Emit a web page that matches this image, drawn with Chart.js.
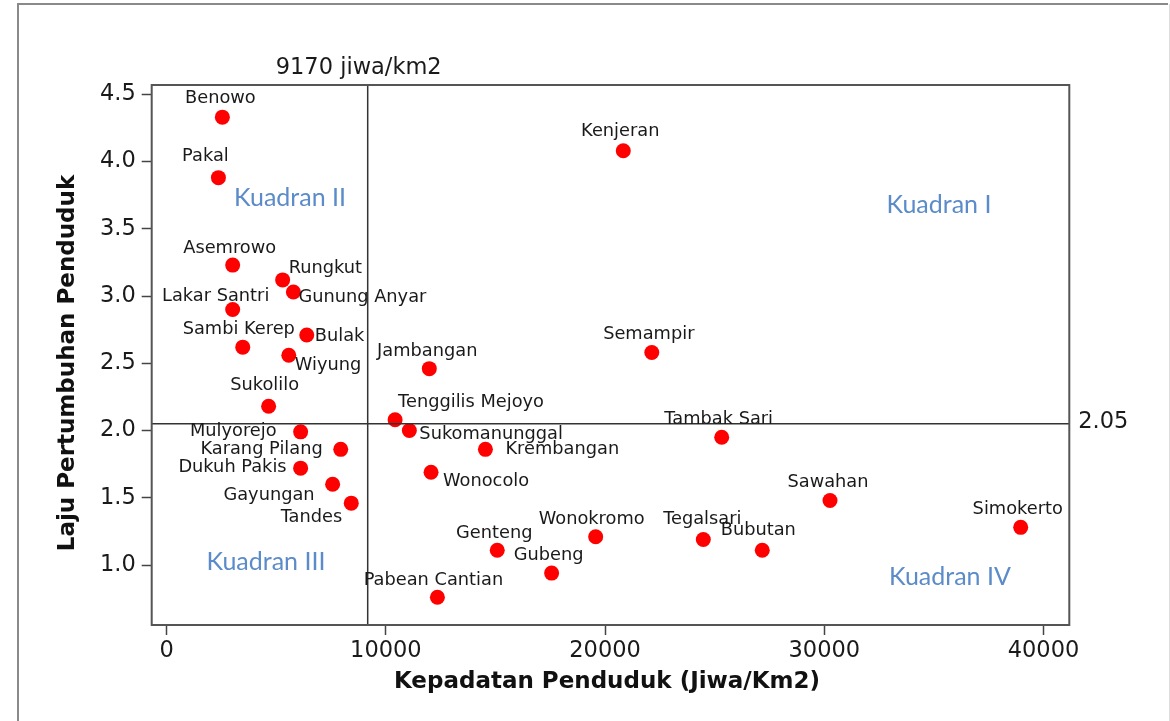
<!DOCTYPE html>
<html>
<head>
<meta charset="utf-8">
<script src="https://cdn.jsdelivr.net/npm/chart.js@4.4.1/dist/chart.umd.min.js"></script>
<style>
html,body{margin:0;padding:0;background:#fff;}
#wrap{position:relative;width:1170px;height:721px;}
canvas{display:block;}
</style>
</head>
<body>
<div id="wrap"><canvas id="c" width="1170" height="721"></canvas></div>
<script>
// ---- DATA ----
const districts = ["Benowo","Pakal","Asemrowo","Rungkut","Gunung Anyar","Lakar Santri","Bulak","Sambi Kerep","Wiyung","Sukolilo","Mulyorejo","Karang Pilang","Dukuh Pakis","Gayungan","Tandes","Jambangan","Semampir","Tenggilis Mejoyo","Sukomanunggal","Tambak Sari","Krembangan","Wonocolo","Genteng","Wonokromo","Tegalsari","Bubutan","Gubeng","Pabean Cantian","Sawahan","Simokerto","Kenjeran"];
const density = [2540,2360,3010,5290,5780,3010,6390,3470,5570,4650,6110,7940,6110,7570,8420,11980,22130,10420,11070,25320,14540,12060,15080,19570,24480,27170,17560,12350,30260,38960,20830];
const growth = [4.33,3.88,3.23,3.12,3.03,2.90,2.71,2.62,2.56,2.18,1.99,1.86,1.72,1.60,1.46,2.46,2.58,2.08,2.00,1.95,1.86,1.69,1.11,1.21,1.19,1.11,0.94,0.76,1.48,1.28,4.08];
const xTickValues = [0,10000,20000,30000,40000];
const yTickValues = [1.0,1.5,2.0,2.5,3.0,3.5,4.0,4.5];
const refDensity = 9170;
const refGrowth = 2.05;
const refDensityLabel = "9170 jiwa/km2";
const refGrowthLabel = "2.05";
const quadrantNames = ["Kuadran I","Kuadran II","Kuadran III","Kuadran IV"];
const xTitle = "Kepadatan Penduduk (Jiwa/Km2)";
const yTitle = "Laju Pertumbuhan Penduduk";

// ---- LAYOUT / STYLE ----
const quadrantPos = [[35230,3.677],[5625,3.729],[4530,1.025],[35730,0.913]];
const labelDefault = {a:'center',dx:-3,dy:-18};
const labelLayout = {
  "Benowo":{a:'center',dx:-2,dy:-19},
  "Pakal":{a:'center',dx:-13,dy:-21},
  "Asemrowo":{a:'center',dx:-3,dy:-17},
  "Rungkut":{a:'left',dx:6,dy:-12},
  "Gunung Anyar":{a:'left',dx:5,dy:5},
  "Lakar Santri":{a:'center',dx:-17,dy:-13},
  "Sambi Kerep":{a:'center',dx:-4,dy:-18},
  "Bulak":{a:'left',dx:8,dy:1},
  "Wiyung":{a:'left',dx:6,dy:10},
  "Sukolilo":{a:'center',dx:-4,dy:-21},
  "Mulyorejo":{a:'right',dx:-24,dy:0},
  "Karang Pilang":{a:'right',dx:-18,dy:0},
  "Dukuh Pakis":{a:'right',dx:-14,dy:-1},
  "Gayungan":{a:'right',dx:-18,dy:11},
  "Tandes":{a:'right',dx:-9,dy:14},
  "Jambangan":{a:'center',dx:-2,dy:-17},
  "Tenggilis Mejoyo":{a:'left',dx:3,dy:-17},
  "Sukomanunggal":{a:'left',dx:10,dy:4},
  "Krembangan":{a:'left',dx:20,dy:0},
  "Wonocolo":{a:'left',dx:12,dy:9},
  "Genteng":{a:'center',dx:-3,dy:-17},
  "Wonokromo":{a:'center',dx:-4,dy:-17},
  "Tegalsari":{a:'center',dx:-1,dy:-20},
  "Bubutan":{a:'center',dx:-4,dy:-20},
  "Pabean Cantian":{a:'center',dx:-4,dy:-17},
  "Sawahan":{a:'center',dx:-2,dy:-18},
  "Kenjeran":{a:'center',dx:-3,dy:-19}
};
const TXT = '#1a1a1a';
const FONT = '"DejaVu Sans", Verdana, sans-serif';

const overlay = {
  id:'overlay',
  beforeDraw(chart){
    const ctx = chart.ctx;
    ctx.save();
    ctx.fillStyle = '#fff';
    ctx.fillRect(0,0,chart.width,chart.height);
    // outer page frame
    ctx.strokeStyle = '#8a8a8a';
    ctx.lineWidth = 2;
    ctx.beginPath();
    ctx.moveTo(18,730); ctx.lineTo(18,4); ctx.lineTo(1168,4);
    ctx.stroke();
    ctx.strokeStyle = '#dddddd';
    ctx.lineWidth = 1;
    ctx.beginPath(); ctx.moveTo(1169.5,4); ctx.lineTo(1169.5,730); ctx.stroke();
    ctx.restore();
  },
  afterDatasetsDraw(chart){
    const ctx = chart.ctx;
    const a = chart.chartArea;
    const xs = chart.scales.x, ys = chart.scales.y;
    ctx.save();
    // reference lines
    ctx.strokeStyle = '#333';
    ctx.lineWidth = 1.5;
    const rx = xs.getPixelForValue(refDensity);
    const ry = ys.getPixelForValue(refGrowth);
    ctx.beginPath();
    ctx.moveTo(rx,a.top); ctx.lineTo(rx,a.bottom);
    ctx.moveTo(a.left,ry); ctx.lineTo(a.right,ry);
    ctx.stroke();
    // plot frame
    ctx.strokeStyle = '#555';
    ctx.lineWidth = 2;
    ctx.strokeRect(a.left,a.top,a.right-a.left,a.bottom-a.top);
    // ref labels
    ctx.fillStyle = TXT;
    ctx.font = '22.5px ' + FONT;
    ctx.textBaseline = 'middle';
    ctx.textAlign = 'center';
    ctx.fillText(refDensityLabel, rx-9, a.top-17);
    ctx.textAlign = 'left';
    ctx.fillText(refGrowthLabel, a.right+9, ry-2);
    // point labels
    ctx.font = '17.8px ' + FONT;
    districts.forEach((n,i)=>{
      const L = labelLayout[n] || labelDefault;
      const px = xs.getPixelForValue(density[i]);
      const py = ys.getPixelForValue(growth[i]);
      ctx.textAlign = L.a;
      ctx.fillText(n, px+L.dx, py+L.dy);
    });
    // quadrant labels
    ctx.fillStyle = '#5b8bc9';
    ctx.font = '25px Lato, "Open Sans", sans-serif';
    ctx.textAlign = 'center';
    quadrantNames.forEach((q,i)=>{
      ctx.fillText(q, xs.getPixelForValue(quadrantPos[i][0]), ys.getPixelForValue(quadrantPos[i][1]));
    });
    // axis titles
    ctx.fillStyle = '#111';
    ctx.font = 'bold 23px ' + FONT;
    ctx.textAlign = 'center';
    ctx.fillText(xTitle, 607, 682);
    ctx.translate(68, 363);
    ctx.rotate(-Math.PI/2);
    ctx.fillText(yTitle, 0, 0);
    ctx.restore();
  }
};

new Chart(document.getElementById('c'), {
  type:'scatter',
  data:{
    datasets:[{
      data: density.map((x,i)=>({x:x,y:growth[i]})),
      pointRadius:7.5,
      pointHoverRadius:7.5,
      pointBackgroundColor:'#ff0000',
      pointBorderColor:'#ff0000',
      pointBorderWidth:0
    }]
  },
  options:{
    responsive:false,
    devicePixelRatio:1,
    animation:false,
    layout:{padding:{left:0,top:85,right:100.7,bottom:0}},
    plugins:{legend:{display:false},tooltip:{enabled:false}},
    scales:{
      x:{
        type:'linear', min:-684, max:41177,
        afterBuildTicks(s){ s.ticks = xTickValues.map(v=>({value:v})); },
        afterFit(s){ s.height = 96; },
        grid:{display:true,drawOnChartArea:false,tickLength:10,tickColor:'#444',tickWidth:1.5},
        border:{display:false},
        ticks:{font:{family:FONT,size:22.5},color:TXT,padding:3,maxRotation:0,autoSkip:false,callback:v=>String(v)}
      },
      y:{
        type:'linear', min:0.554, max:4.569,
        afterBuildTicks(s){ s.ticks = yTickValues.map(v=>({value:v})); },
        afterFit(s){ s.width = 151.7; },
        grid:{display:true,drawOnChartArea:false,tickLength:10,tickColor:'#444',tickWidth:1.5},
        border:{display:false},
        ticks:{font:{family:FONT,size:22.5},color:TXT,padding:6,autoSkip:false,callback:v=>v.toFixed(1)}
      }
    }
  },
  plugins:[overlay]
});
</script>
</body>
</html>
